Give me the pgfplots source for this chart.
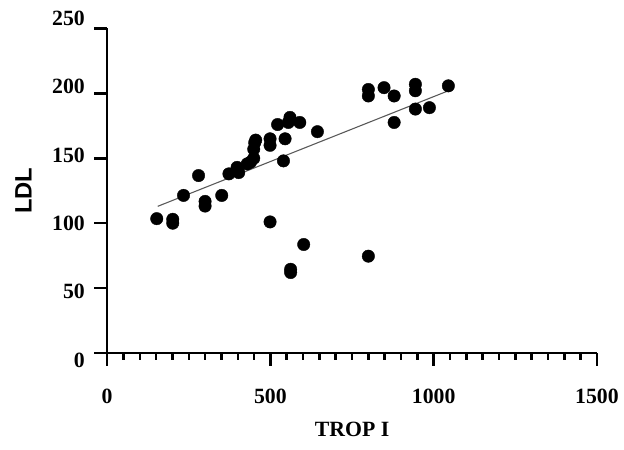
\documentclass[border={12pt 9pt 2pt 8pt}]{standalone}
\usepackage{fontspec}
\setmainfont{Liberation Serif}
\newfontfamily\arialfont{Liberation Sans}
\usepackage{pgfplots}
\pgfplotsset{compat=1.18}

\begin{document}
\begin{tikzpicture}
\begin{axis}[
    scale only axis,
    width=495pt,
    height=328pt,
    xmin=0, xmax=1500,
    ymin=0, ymax=250,
    axis lines*=left,
    xtick={0,500,1000,1500},
    xticklabels={0,500,1000,1500},
    minor x tick num=9,
    ytick={0,50,100,150,200,250},
    yticklabels={0,50,100,150,200,250},
    xtick align=outside,
    ytick align=outside,
    xtick pos=bottom,
    ytick pos=left,
    major tick length=13pt,
    minor tick length=7pt,
    every tick/.style={black, line width=2.5pt},
    axis line style={line width=2.5pt},
    ticklabel style={font=\fontsize{22}{24}\selectfont\rmfamily\bfseries},
    xticklabel style={yshift=-20pt},
    yticklabel style={xshift=-6pt, yshift={-7pt+\ticknum*3.4pt}},
    xlabel={TROP I},
    ylabel={\arialfont LDL},
    xlabel style={font=\fontsize{22}{24}\selectfont\bfseries, yshift=-12pt},
    ylabel style={font=\fontsize{24}{26}\selectfont\bfseries, yshift=14pt},
    clip=false,
]
\addplot[gray!70!black, line width=1.1pt] coordinates {(155,113) (1045,202)};
\addplot[only marks, mark=*, mark size=6.3pt, black] coordinates {
    (152,103.5) (201,103) (201,100) (234,121.4) (280,136.7)
    (300,116.8) (300,113.2) (351,121.4) (373,138) (398,143)
    (403,139) (429,145.7) (439,147) (449,150) (449,157)
    (452,162) (455,164) (499,165) (499,160) (499,101)
    (522,176) (545,165) (540,148) (560,181.5) (555,177.6)
    (590,177.6) (644,170.5) (602,83.6) (562,64.5) (562,62)
    (800,74.6) (800,203) (800,198) (848,204.4) (879,198)
    (879,177.6) (944,207) (944,202) (944,187.9) (987,189)
    (1045,205.8)
};
\end{axis}
\end{tikzpicture}
\end{document}
